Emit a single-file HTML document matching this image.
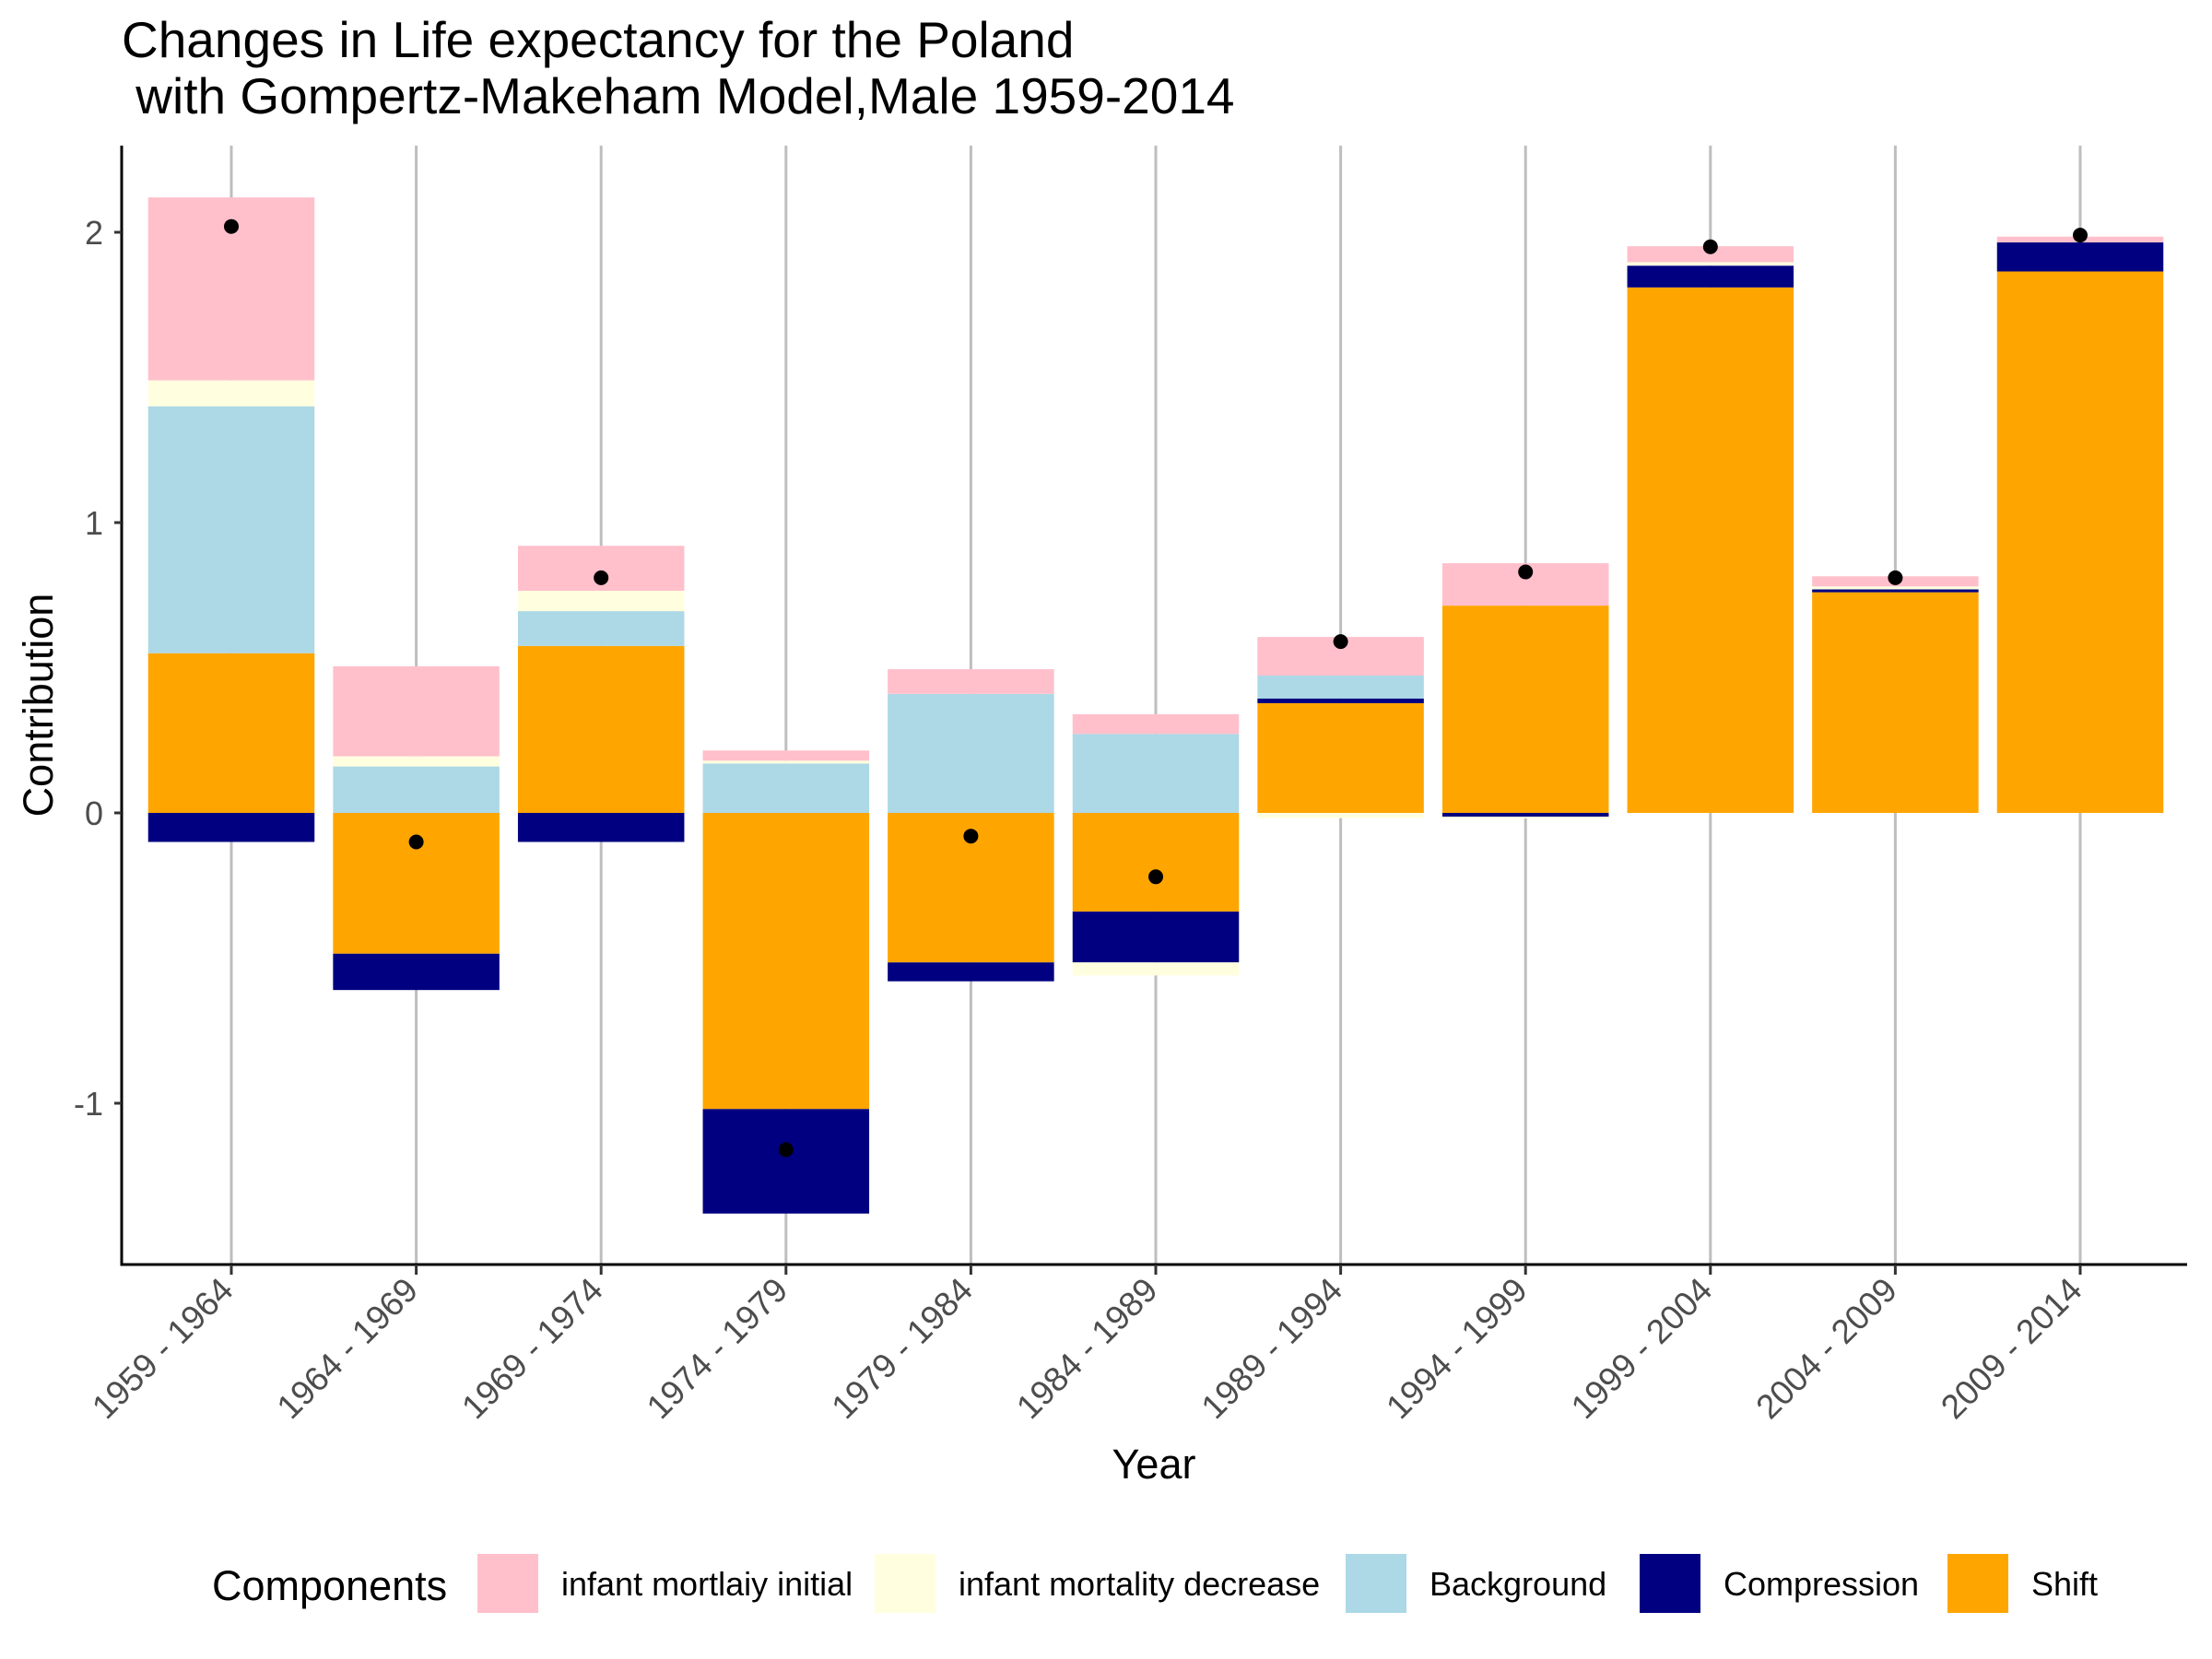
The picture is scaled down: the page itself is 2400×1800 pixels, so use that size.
<!DOCTYPE html>
<html><head><meta charset="utf-8"><style>
html,body{margin:0;padding:0;background:#fff;}
svg{display:block;font-family:"Liberation Sans",Arial,sans-serif;}
</style></head><body>
<svg id="chart" width="2400" height="1800" viewBox="0 0 2400 1800" xmlns="http://www.w3.org/2000/svg">
<text x="132" y="62" font-size="55" fill="#000">Changes in Life expectancy for the Poland</text>
<text x="132" y="123" font-size="55" fill="#000" xml:space="preserve"> with Gompertz-Makeham Model,Male 1959-2014</text>
<g id="grid"></g>
<g id="bars"></g>
<g id="dots"></g>
<g id="axes"></g>
<text transform="translate(57,765) rotate(-90)" text-anchor="middle" font-size="45" fill="#000">Contribution</text>
<text x="1252" y="1604" text-anchor="middle" font-size="45" fill="#000">Year</text>
<g id="legend"></g>
</svg>
<script>
const categories = ["1959 - 1964","1964 - 1969","1969 - 1974","1974 - 1979","1979 - 1984","1984 - 1989","1989 - 1994","1994 - 1999","1999 - 2004","2004 - 2009","2009 - 2014"];
const shift = [0.55,-0.485,0.575,-1.02,-0.515,-0.34,0.378,0.714,1.81,0.76,1.865];
const compression = [-0.10,-0.125,-0.10,-0.36,-0.065,-0.175,0.016,-0.013,0.075,0.01,0.10];
const background = [0.85,0.16,0.12,0.17,0.41,0.272,0.079,0.0,0.0,0.0,0.0];
const infantDecrease = [0.09,0.035,0.07,0.01,0.0,-0.045,-0.018,-0.006,0.012,0.01,0.0];
const infantInitial = [0.63,0.31,0.155,0.035,0.085,0.068,0.133,0.146,0.055,0.035,0.02];
const totals = [2.02,-0.10,0.81,-1.16,-0.08,-0.22,0.59,0.83,1.95,0.81,1.99];
const yTicks = [-1,0,1,2];
const yTickLabels = ["-1","0","1","2"];
const seriesNames = ["infant mortlaiy initial","infant mortality decrease","Background","Compression","Shift"];
const seriesColors = ["#FFC0CB","#FFFFE0","#ADD8E6","#000080","#FFA500"];

const NS="http://www.w3.org/2000/svg";
const L=132,R=2373,T=158,B=1372;
const y0px=882, unit=315;
const yScale=v=>y0px-v*unit;
const step=200.6, x0=251;
const xScale=i=>x0+i*step;
const bw=180.5;
function mk(tag,attrs,parent){const e=document.createElementNS(NS,tag);for(const k in attrs)e.setAttribute(k,attrs[k]);parent.appendChild(e);return e;}
const grid=document.getElementById('grid'),bars=document.getElementById('bars'),dots=document.getElementById('dots'),axes=document.getElementById('axes'),legend=document.getElementById('legend');

categories.forEach((c,i)=>{
  const g=mk('line',{x1:xScale(i),x2:xScale(i),y1:T,y2:B,stroke:'#bebebe','stroke-width':3},grid);
  
  
});

const stackSeries=[shift,compression,background,infantDecrease,infantInitial];
const stackColors=[seriesColors[4],seriesColors[3],seriesColors[2],seriesColors[1],seriesColors[0]];
const stackNames=['shift','compression','background','infant-decrease','infant-initial'];
categories.forEach((c,i)=>{
  let pos=0,neg=0;
  stackSeries.forEach((s,k)=>{
    const v=s[i]; if(v===0) return;
    let a,b;
    if(v>0){a=pos;b=pos+v;pos=b;}else{a=neg;b=neg+v;neg=b;}
    const y1=yScale(Math.max(a,b)),y2=yScale(Math.min(a,b));
    const r=mk('rect',{x:xScale(i)-bw/2,y:y1,width:bw,height:Math.max(y2-y1,0.5),fill:stackColors[k]},bars);
    
    
  });
  const d=mk('circle',{cx:xScale(i),cy:yScale(totals[i]),r:8,fill:'#000'},dots);
  
  
});

const ya=mk('line',{x1:L,x2:L,y1:T,y2:B+1.5,stroke:'#000','stroke-width':3},axes);


const xa=mk('line',{x1:L-1.5,x2:R,y1:B,y2:B,stroke:'#000','stroke-width':3},axes);


yTicks.forEach((v,k)=>{
  const y=yScale(v);
  const t=mk('line',{x1:L-8,x2:L,y1:y,y2:y,stroke:'#333','stroke-width':3},axes);
  
  
  const tx=mk('text',{x:L-20,y:y+13,'text-anchor':'end','font-size':36,fill:'#4d4d4d'},axes);
  tx.textContent=yTickLabels[k];
  
  
});
categories.forEach((c,i)=>{
  const x=xScale(i);
  const t=mk('line',{x1:x,x2:x,y1:B,y2:B+11,stroke:'#333','stroke-width':3},axes);
  
  
  const tx=mk('text',{transform:`translate(${x+4},${B+30}) rotate(-45)`,'text-anchor':'end','font-size':37,fill:'#4d4d4d'},axes);
  tx.textContent=c;
  
  
});

const lt=mk('text',{x:230,y:1736,'font-size':45,fill:'#000'},legend);
lt.textContent='Components';


const keyX=[518,949,1460,1779,2113];
seriesNames.forEach((n,k)=>{
  const r=mk('rect',{x:keyX[k],y:1686,width:66,height:64,fill:seriesColors[k]},legend);
  
  
  const t=mk('text',{x:keyX[k]+91,y:1731,'font-size':36,fill:'#000'},legend);
  t.textContent=n;
  
  
});
</script>
</body></html>
